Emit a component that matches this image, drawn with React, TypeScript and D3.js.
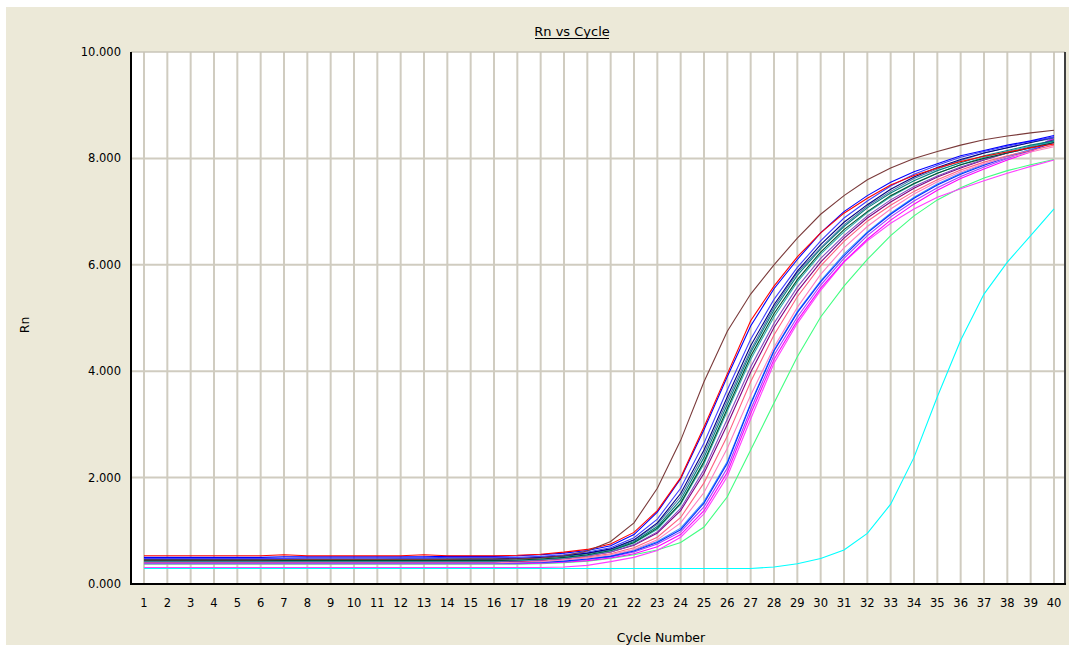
import React from "react";
import * as d3 from "d3";

// cycle numbers on the x axis
const cycles = [
  1, 2, 3, 4, 5, 6, 7, 8, 9, 10, 11, 12, 13, 14, 15, 16, 17, 18, 19, 20,
  21, 22, 23, 24, 25, 26, 27, 28, 29, 30, 31, 32, 33, 34, 35, 36, 37, 38, 39, 40,
];
const yTicks = [0, 2, 4, 6, 8, 10];

// Rn values, one per cycle
const brown = [0.45,0.45,0.45,0.45,0.45,0.45,0.46,0.46,0.46,0.46,0.46,0.46,0.46,0.46,0.47,0.47,0.47,0.49,0.53,0.62,0.8,1.15,1.8,2.7,3.8,4.75,5.45,6.0,6.5,6.95,7.3,7.6,7.82,8.0,8.13,8.25,8.35,8.42,8.48,8.53];
const red = [0.53,0.53,0.53,0.53,0.53,0.53,0.55,0.53,0.53,0.53,0.53,0.53,0.55,0.53,0.53,0.53,0.54,0.56,0.6,0.65,0.75,0.97,1.38,2.0,2.95,3.95,4.95,5.6,6.15,6.6,6.97,7.25,7.5,7.68,7.82,7.94,8.04,8.12,8.2,8.27];
const blue1 = [0.5,0.5,0.5,0.5,0.5,0.5,0.51,0.51,0.51,0.51,0.51,0.51,0.51,0.52,0.52,0.52,0.53,0.55,0.58,0.63,0.72,0.93,1.35,1.98,2.9,3.9,4.85,5.55,6.1,6.6,7.0,7.3,7.55,7.75,7.9,8.05,8.15,8.25,8.33,8.43];
const blue2 = [0.48,0.48,0.48,0.48,0.48,0.48,0.48,0.49,0.49,0.49,0.49,0.49,0.49,0.5,0.5,0.5,0.5,0.52,0.55,0.6,0.68,0.87,1.22,1.8,2.65,3.65,4.6,5.35,5.95,6.45,6.88,7.2,7.48,7.7,7.87,8.02,8.13,8.23,8.32,8.4];
const steel = [0.47,0.47,0.47,0.46,0.46,0.46,0.46,0.46,0.46,0.46,0.46,0.47,0.47,0.47,0.47,0.47,0.48,0.5,0.53,0.58,0.65,0.82,1.12,1.64,2.45,3.45,4.4,5.2,5.85,6.32,6.75,7.1,7.38,7.62,7.8,7.96,8.1,8.2,8.3,8.38];
const teal = [0.46,0.46,0.46,0.46,0.46,0.46,0.46,0.46,0.46,0.46,0.46,0.46,0.46,0.46,0.46,0.46,0.47,0.49,0.52,0.57,0.64,0.8,1.08,1.58,2.38,3.38,4.35,5.15,5.8,6.3,6.72,7.07,7.35,7.58,7.77,7.92,8.05,8.15,8.25,8.33];
const darkGreen = [0.44,0.44,0.44,0.44,0.44,0.44,0.44,0.44,0.44,0.44,0.44,0.44,0.44,0.44,0.44,0.44,0.45,0.47,0.5,0.55,0.63,0.78,1.05,1.52,2.3,3.3,4.28,5.08,5.72,6.24,6.66,7.0,7.3,7.53,7.72,7.88,8.0,8.1,8.2,8.3];
const cyanTeal = [0.43,0.43,0.43,0.43,0.43,0.43,0.43,0.43,0.43,0.43,0.43,0.43,0.43,0.43,0.43,0.43,0.44,0.46,0.49,0.54,0.62,0.77,1.03,1.5,2.26,3.25,4.22,5.02,5.68,6.2,6.62,6.98,7.28,7.52,7.72,7.88,8.02,8.13,8.23,8.32];
const navy = [0.47,0.47,0.47,0.47,0.47,0.47,0.47,0.47,0.47,0.47,0.47,0.47,0.47,0.47,0.47,0.47,0.48,0.5,0.53,0.58,0.66,0.83,1.15,1.7,2.52,3.52,4.48,5.25,5.88,6.38,6.8,7.13,7.42,7.65,7.83,7.98,8.1,8.2,8.3,8.4];
const purple = [0.43,0.43,0.43,0.43,0.43,0.43,0.43,0.43,0.43,0.43,0.43,0.43,0.43,0.43,0.43,0.43,0.44,0.45,0.48,0.53,0.6,0.74,0.98,1.42,2.15,3.1,4.08,4.9,5.58,6.12,6.55,6.92,7.22,7.47,7.67,7.84,7.98,8.1,8.2,8.3];
const darkPurple = [0.42,0.42,0.42,0.42,0.42,0.42,0.42,0.42,0.42,0.42,0.42,0.42,0.42,0.42,0.42,0.42,0.43,0.45,0.48,0.53,0.6,0.73,0.96,1.38,2.08,3.0,3.98,4.82,5.5,6.05,6.5,6.88,7.18,7.44,7.65,7.82,7.97,8.1,8.22,8.35];
const pink = [0.42,0.42,0.42,0.42,0.42,0.42,0.42,0.42,0.42,0.42,0.42,0.42,0.42,0.42,0.42,0.42,0.42,0.44,0.47,0.51,0.57,0.68,0.88,1.25,1.9,2.78,3.8,4.68,5.4,5.98,6.44,6.82,7.12,7.38,7.6,7.78,7.93,8.05,8.15,8.25];
const hotPink = [0.4,0.4,0.4,0.4,0.4,0.4,0.4,0.4,0.4,0.4,0.4,0.4,0.4,0.4,0.4,0.4,0.41,0.42,0.45,0.49,0.55,0.65,0.83,1.15,1.72,2.55,3.55,4.45,5.2,5.82,6.32,6.72,7.05,7.33,7.56,7.75,7.9,8.02,8.12,8.22];
const lateBlue = [0.4,0.4,0.4,0.4,0.4,0.4,0.4,0.4,0.4,0.4,0.4,0.4,0.4,0.4,0.4,0.4,0.4,0.41,0.43,0.47,0.52,0.62,0.78,1.02,1.52,2.27,3.38,4.38,5.1,5.68,6.17,6.6,6.95,7.25,7.5,7.7,7.87,8.02,8.15,8.3];
const lateLightBlue = [0.41,0.41,0.41,0.41,0.41,0.41,0.41,0.41,0.41,0.41,0.41,0.41,0.41,0.41,0.41,0.41,0.41,0.42,0.44,0.48,0.53,0.64,0.8,1.05,1.55,2.3,3.4,4.4,5.12,5.7,6.2,6.62,6.97,7.27,7.52,7.72,7.89,8.04,8.17,8.35];
const lateViolet = [0.39,0.39,0.39,0.39,0.39,0.39,0.39,0.39,0.39,0.39,0.39,0.39,0.39,0.39,0.39,0.39,0.39,0.4,0.42,0.46,0.51,0.6,0.75,0.98,1.45,2.18,3.28,4.3,5.02,5.62,6.12,6.55,6.9,7.2,7.45,7.66,7.84,8.0,8.15,8.4];
const lateMagenta = [0.38,0.38,0.38,0.38,0.38,0.38,0.38,0.38,0.38,0.38,0.38,0.38,0.38,0.38,0.38,0.38,0.38,0.39,0.41,0.44,0.49,0.57,0.7,0.93,1.38,2.1,3.2,4.22,4.95,5.56,6.06,6.48,6.84,7.14,7.4,7.62,7.8,7.97,8.12,8.38];
const lowMagenta = [0.31,0.31,0.31,0.31,0.31,0.31,0.31,0.31,0.31,0.31,0.31,0.31,0.31,0.31,0.31,0.31,0.31,0.31,0.32,0.35,0.42,0.5,0.63,0.88,1.32,2.02,3.1,4.15,4.9,5.52,6.05,6.45,6.78,7.05,7.27,7.43,7.58,7.72,7.85,7.97];
const green = [0.37,0.37,0.37,0.37,0.37,0.37,0.37,0.37,0.37,0.37,0.37,0.37,0.37,0.37,0.37,0.37,0.37,0.38,0.4,0.43,0.48,0.55,0.64,0.78,1.07,1.64,2.52,3.4,4.27,5.02,5.6,6.1,6.55,6.92,7.22,7.45,7.63,7.77,7.88,7.98];
const cyan = [0.29,0.29,0.29,0.29,0.29,0.29,0.29,0.29,0.29,0.29,0.29,0.29,0.29,0.29,0.29,0.29,0.29,0.29,0.29,0.29,0.29,0.29,0.29,0.29,0.29,0.29,0.29,0.32,0.38,0.48,0.64,0.95,1.5,2.38,3.52,4.58,5.45,6.05,6.55,7.05];

const wells = [
  cyan, green, lowMagenta, lateMagenta, lateViolet, lateLightBlue, lateBlue,
  hotPink, pink, darkPurple, purple, cyanTeal, darkGreen, teal, steel, navy,
  blue2, blue1, red, brown,
];
const wellColors = [
  "#00ffff", "#40ff80", "#ff40ff", "#ff00ff", "#a040ff", "#4090ff", "#0030ff",
  "#ff80c0", "#ff6080", "#800080", "#8050c0", "#30b0b0", "#005030", "#008080", "#5078a8", "#000080",
  "#4040ff", "#0000ff", "#ff0000", "#7a3a3a",
];

const W = 1073, H = 647;
const left = 131, right = 1065, top = 52, bottom = 584;
const font = "DejaVu Sans, sans-serif";
const gridColor = "#d0ccc0";

export default function App() {
  const x = d3.scaleLinear().domain([1, 40]).range([144, 1054]);
  const y = d3.scaleLinear().domain([0, 10]).range([bottom, top]);

  const line = d3.line<number>()
    .x((d, i) => x(cycles[i]))
    .y((d) => y(d));

  return (
    <svg width={W} height={H} style={{ position: "absolute", left: 0, top: 0 }}>
      <rect x={0} y={0} width={W} height={H} fill="#ffffff" />
      <rect x={6} y={7} width={1063} height={638} fill="#ece9d8" />

      {/* title */}
      <text x={572} y={36} textAnchor="middle" fontFamily={font} fontSize={13} fill="#000">Rn vs Cycle</text>
      <line x1={535} x2={609} y1={38.5} y2={38.5} stroke="#000" strokeWidth={1} />

      {/* plot area */}
      <rect x={left} y={top} width={right - left} height={bottom - top} fill="#ffffff" />

      {cycles.map((c) => (
        <line key={"vx" + c} x1={x(c)} x2={x(c)} y1={top} y2={bottom} stroke={gridColor} strokeWidth={2} />
      ))}
      {yTicks.filter((t) => t > 0 && t < 10).map((t) => (
        <line key={"hy" + t} x1={left} x2={right} y1={y(t)} y2={y(t)} stroke={gridColor} strokeWidth={2} />
      ))}

      <g clipPath="url(#plotClip)">
        {wells.map((vals, i) => (
          <path key={i} d={line(vals) || ""} fill="none" stroke={wellColors[i]} strokeWidth={1.1} />
        ))}
      </g>
      <defs>
        <clipPath id="plotClip">
          <rect x={left} y={top} width={right - left} height={bottom - top} />
        </clipPath>
      </defs>

      {/* frame */}
      <line x1={left} x2={right} y1={top} y2={top} stroke="#c8c4b8" strokeWidth={1.5} />
      <line x1={right} x2={right} y1={top} y2={bottom + 1} stroke="#404040" strokeWidth={2} />
      <line x1={left} x2={left} y1={top} y2={bottom + 1} stroke="#000" strokeWidth={2} />
      <line x1={left} x2={right + 1} y1={bottom} y2={bottom} stroke="#000" strokeWidth={2} />

      {/* y tick labels */}
      {yTicks.map((t) => (
        <text key={"yt" + t} x={121} y={y(t) + 4} textAnchor="end" fontFamily={font} fontSize={11.5} fill="#000">
          {d3.format(".3f")(t)}
        </text>
      ))}

      {/* x tick labels */}
      {cycles.map((c) => (
        <text key={"xt" + c} x={x(c)} y={607} textAnchor="middle" fontFamily={font} fontSize={11.5} fill="#000">
          {c}
        </text>
      ))}

      <text x={661} y={642} textAnchor="middle" fontFamily={font} fontSize={12.5} fill="#000">Cycle Number</text>
      <text transform="translate(29,325) rotate(-90)" textAnchor="middle" fontFamily={font} fontSize={12.5} fill="#000">Rn</text>
    </svg>
  );
}
